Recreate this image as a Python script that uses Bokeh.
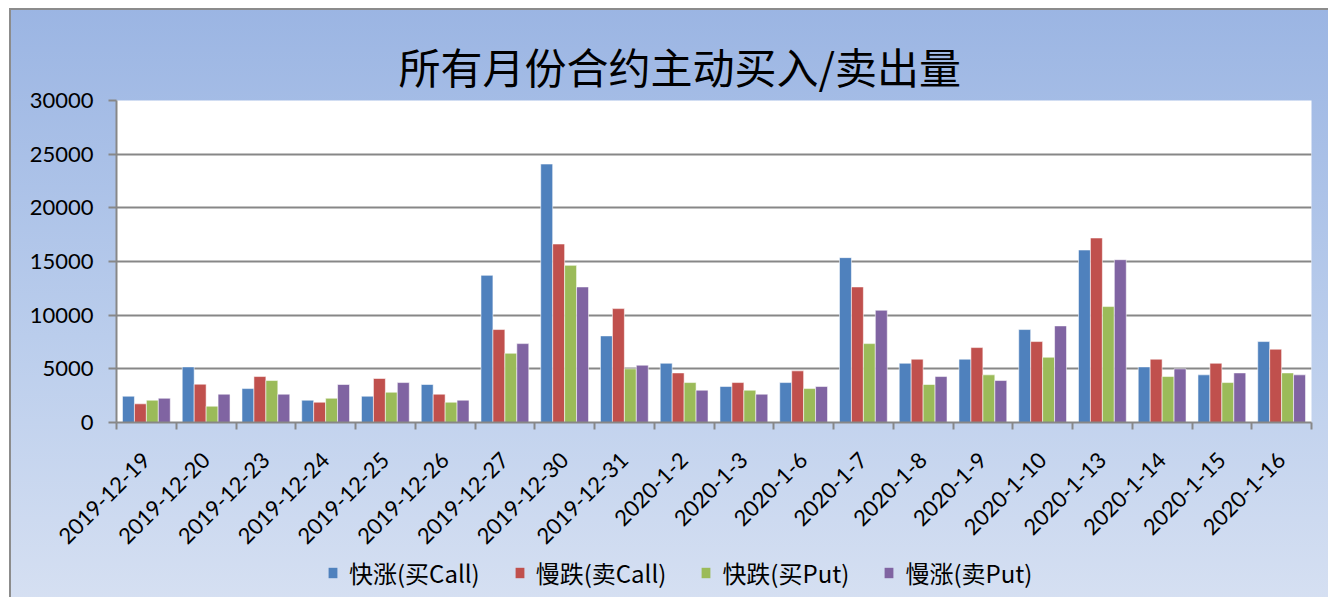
import math
from bokeh.plotting import figure
from bokeh.layouts import column
from bokeh.models import (ColumnDataSource, Legend, LegendItem, Range1d, FixedTicker,
                          Title, LinearAxis)
from bokeh.transform import dodge
from bokeh.embed import file_html
from bokeh.resources import INLINE

dates = ["2019-12-19", "2019-12-20", "2019-12-23", "2019-12-24", "2019-12-25",
         "2019-12-26", "2019-12-27", "2019-12-30", "2019-12-31", "2020-1-2",
         "2020-1-3", "2020-1-6", "2020-1-7", "2020-1-8", "2020-1-9",
         "2020-1-10", "2020-1-13", "2020-1-14", "2020-1-15", "2020-1-16"]
fast_up_buy_call = [2450, 5180, 3160, 2080, 2450, 3540, 13710, 24080, 8070, 5520,
                    3350, 3720, 15360, 5520, 5900, 8660, 16070, 5180, 4440, 7540]
slow_down_sell_call = [1740, 3570, 4280, 1890, 4100, 2640, 8660, 16630, 10610, 4620,
                       3720, 4810, 12630, 5900, 6980, 7540, 17190, 5900, 5520, 6830]
fast_down_buy_put = [2080, 1520, 3910, 2260, 2820, 1890, 6450, 14640, 5000, 3720,
                     3010, 3160, 7350, 3540, 4440, 6080, 10800, 4280, 3720, 4620]
slow_up_sell_put = [2260, 2640, 2640, 3540, 3720, 2080, 7350, 12630, 5340, 3010,
                    2640, 3350, 10460, 4280, 3910, 9000, 15170, 5000, 4620, 4440]

series_names = ["快涨(买Call)", "慢跌(卖Call)", "快跌(买Put)", "慢涨(卖Put)"]
series_cols = ["a", "b", "c", "d"]
colors = ["#4F81BD", "#C0504D", "#9BBB59", "#8064A2"]
offsets = [-0.3, -0.1, 0.1, 0.3]
y_ticks = [0, 5000, 10000, 15000, 20000, 25000, 30000]

n = len(dates)
centers = [i + 0.5 for i in range(n)]
boundaries = list(range(n + 1))

source = ColumnDataSource(dict(x=centers, a=fast_up_buy_call, b=slow_down_sell_call,
                               c=fast_down_buy_put, d=slow_up_sell_put))

W = 1328
LEG_H = 44
p = figure(x_range=Range1d(0, n), y_range=Range1d(0, 30000),
           width=W, height=597 - LEG_H, output_backend="svg", toolbar_location=None,
           x_axis_location=None,
           min_border_left=116, min_border_right=17, min_border_top=100,
           min_border_bottom=597 - LEG_H - 423)
p.border_fill_alpha = 0
p.background_fill_color = "white"
p.outline_line_color = None

p.title = Title(text="所有月份合约主动买入/卖出量", align="left", offset=282,
                text_font="Noto Sans CJK SC", text_font_size="42px",
                text_font_style="normal", text_color="black")

renderers = []
for col, c, off in zip(series_cols, colors, offsets):
    r = p.vbar(x=dodge("x", off), top=col, width=0.2, source=source,
               fill_color=c, line_color="white", line_alpha=0.55, line_width=1)
    renderers.append(r)

# y axis
p.yaxis.ticker = FixedTicker(ticks=y_ticks)
p.ygrid.ticker = FixedTicker(ticks=y_ticks)
p.ygrid.grid_line_color = "#878787"
p.ygrid.grid_line_width = 2
p.xgrid.grid_line_color = None
p.yaxis.axis_line_color = "#878787"
p.yaxis.axis_line_width = 2
p.yaxis.major_tick_line_color = "#878787"
p.yaxis.major_tick_line_width = 2
p.yaxis.minor_tick_line_color = None
p.yaxis.major_tick_in = 0
p.yaxis.major_tick_out = 8
p.yaxis.major_label_text_color = "black"
p.yaxis.major_label_text_font = "Lato"
p.yaxis.major_label_text_font_size = "22px"
p.yaxis.major_label_standoff = 15
p.yaxis.formatter.use_scientific = False

# x axis: labels at category centres, tick marks at category boundaries
x_axis = LinearAxis(ticker=FixedTicker(ticks=centers, minor_ticks=boundaries),
                    major_label_overrides={c: d for c, d in zip(centers, dates)},
                    axis_line_color="#878787", axis_line_width=2,
                    major_tick_line_color=None, major_tick_in=0, major_tick_out=0,
                    minor_tick_line_color="#878787", minor_tick_line_width=2,
                    minor_tick_in=0, minor_tick_out=7,
                    major_label_text_font="Lato", major_label_text_font_size="22px",
                    major_label_text_color="black",
                    major_label_orientation=math.pi / 4, major_label_standoff=27)
p.add_layout(x_axis, "below")

# legend row (its frame is aligned with the main plot's frame by the column layout)
lf = figure(x_range=Range1d(0, 1), y_range=Range1d(0, 1), width=W, height=LEG_H,
            output_backend="svg", toolbar_location=None, min_border=0,
            x_axis_location=None, y_axis_location=None)
lf.border_fill_alpha = 0
lf.background_fill_alpha = 0
lf.outline_line_color = None
lf.xgrid.visible = False
lf.ygrid.visible = False
leg_renderers = [lf.vbar(x=[0.5], top=[0], bottom=[0], width=0.01, fill_color=c, line_color=None)
                 for c in colors]
legend = Legend(items=[LegendItem(label=s, renderers=[r]) for s, r in zip(series_names, leg_renderers)],
                orientation="horizontal", location=(211, 7),
                label_text_font="Noto Sans CJK SC", label_text_font_size="24px",
                label_text_color="black", glyph_width=11, glyph_height=13,
                label_standoff=11, spacing=34, padding=2, margin=0,
                border_line_color=None, background_fill_alpha=0)
lf.add_layout(legend, "center")

layout = column(p, lf, spacing=0, styles={
    "background": ("linear-gradient(#8c8c8c,#8c8c8c) 9px 8px / 100% 2px no-repeat, "
                   "linear-gradient(#8c8c8c,#8c8c8c) 9px 8px / 2px 100% no-repeat, "
                   "linear-gradient(to bottom, #9bb5e3, #bacdec 55%, #d6e0f2) 9px 8px / 100% 100% no-repeat, "
                   "#ffffff")})

open("out.html", "w").write(file_html(layout, INLINE))
